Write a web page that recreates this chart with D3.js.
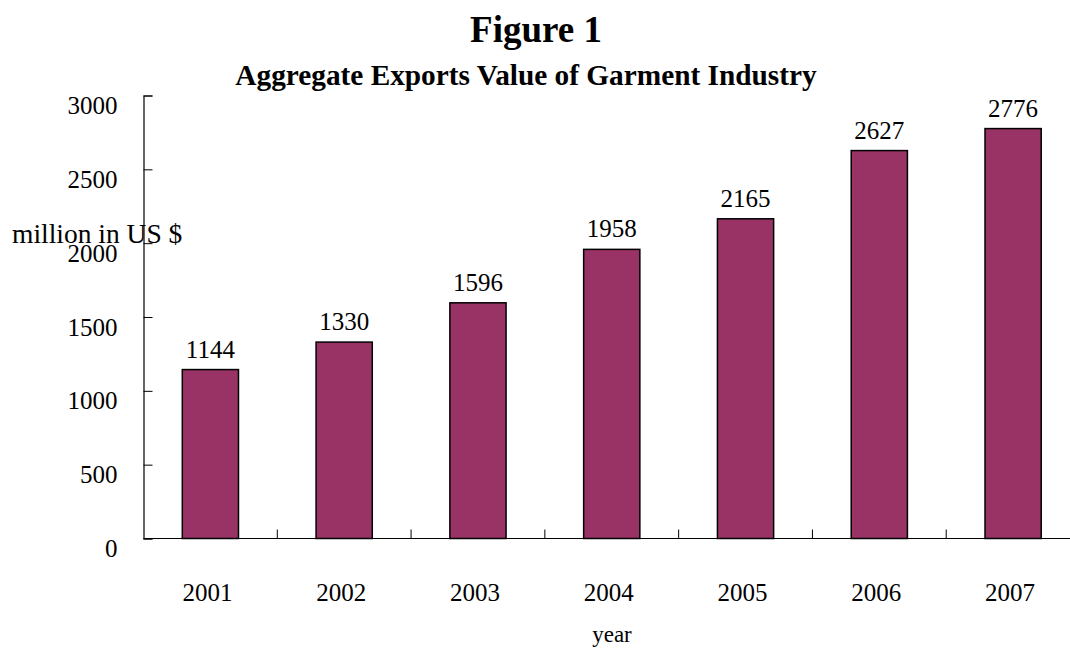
<!DOCTYPE html>
<html>
<head>
<meta charset="utf-8">
<script src="https://cdn.jsdelivr.net/npm/d3@7"></script>
<style>
  body { margin: 0; background: #fff; }
  svg { display: block; font-family: "Liberation Serif", "Times New Roman", serif; }
</style>
</head>
<body>
<script>
// Data
const years = ["2001", "2002", "2003", "2004", "2005", "2006", "2007"];
const exportsValue = [1144, 1330, 1596, 1958, 2165, 2627, 2776];
const yTicks = [0, 500, 1000, 1500, 2000, 2500, 3000];

const width = 1070, height = 648;
const margin = {top: 95.5, left: 143.5, bottom: 109.5};
const plotRight = 1080;
const innerH = height - margin.top - margin.bottom;
const numSize = "25px";

const svg = d3.select("body").append("svg")
  .attr("width", width)
  .attr("height", height);

const x = d3.scaleBand()
  .domain(years)
  .range([margin.left, plotRight])
  .paddingInner(0.58)
  .paddingOuter(0.29);

const y = d3.scaleLinear()
  .domain([0, 3000])
  .range([margin.top + innerH, margin.top]);

// Bars
svg.append("g")
  .selectAll("rect")
  .data(exportsValue)
  .join("rect")
  .attr("x", (d, i) => x(years[i]))
  .attr("y", d => y(d))
  .attr("width", x.bandwidth())
  .attr("height", d => y(0) - y(d))
  .attr("fill", "#993366")
  .attr("stroke", "#000")
  .attr("stroke-width", 1.5);

// Value labels
svg.append("g")
  .selectAll("text")
  .data(exportsValue)
  .join("text")
  .attr("x", (d, i) => x(years[i]) + x.bandwidth() / 2)
  .attr("y", d => y(d) - 12)
  .attr("text-anchor", "middle")
  .style("font-size", numSize)
  .text(d => d);

// Y axis
const yAxis = svg.append("g")
  .attr("transform", `translate(${margin.left},0)`)
  .call(d3.axisLeft(y).tickValues(yTicks).tickFormat(d3.format("d")).tickSize(-9).tickPadding(26));
yAxis.select(".domain").attr("stroke", "#000").attr("stroke-width", 1.2);
yAxis.selectAll(".tick line").attr("stroke", "#000");
yAxis.selectAll(".tick text")
  .attr("dy", "0.72em")
  .style("font-family", "Liberation Serif, serif")
  .style("font-size", numSize)
  .attr("fill", "#000");

// X axis: ticks at category boundaries
const xAxisG = svg.append("g")
  .attr("transform", `translate(0,${y(0)})`);
xAxisG.append("line")
  .attr("x1", margin.left).attr("x2", plotRight)
  .attr("stroke", "#000").attr("stroke-width", 1.2);
const step = x.step();
xAxisG.selectAll("line.tk")
  .data(years.slice(1))
  .join("line")
  .attr("class", "tk")
  .attr("x1", d => x(d) - step * x.paddingInner() / 2)
  .attr("x2", d => x(d) - step * x.paddingInner() / 2)
  .attr("y1", 0).attr("y2", -9)
  .attr("stroke", "#000");
xAxisG.selectAll("text")
  .data(years)
  .join("text")
  .attr("x", d => x(d) + x.bandwidth() / 2 - 3)
  .attr("y", 62)
  .attr("text-anchor", "middle")
  .style("font-size", numSize)
  .text(d => d);

// Axis titles
svg.append("text")
  .attr("x", 12).attr("y", 243)
  .style("font-size", "27.5px")
  .text("million in US $");
svg.append("text")
  .attr("x", 612).attr("y", 642)
  .attr("text-anchor", "middle")
  .style("font-size", "23px")
  .text("year");

// Titles
svg.append("text")
  .attr("x", 536).attr("y", 42)
  .attr("text-anchor", "middle")
  .style("font-size", "37px").style("font-weight", "bold")
  .text("Figure 1");
svg.append("text")
  .attr("x", 526).attr("y", 85)
  .attr("text-anchor", "middle")
  .style("font-size", "29.3px").style("font-weight", "bold")
  .text("Aggregate Exports Value of Garment Industry");
</script>
</body>
</html>
